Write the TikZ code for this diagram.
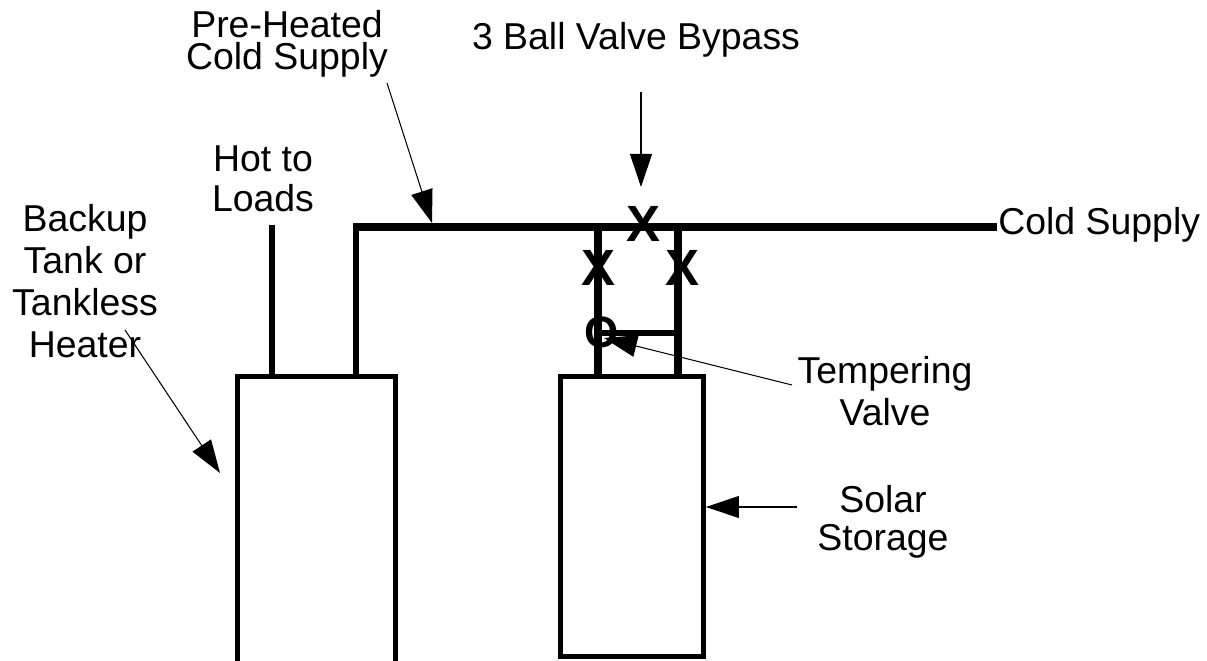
\documentclass[tikz,border=0pt]{standalone}
\usepackage{fontspec}
\setmainfont{Liberation Sans}
\usetikzlibrary{arrows.meta,positioning}

\tikzset{
    tank/.style={draw, line width=0.1cm, inner sep=0pt, anchor=north west},
    pipe/.style={line width=0.16cm},
    thinpipe/.style={line width=0.12cm},
    callout/.style={line width=0.6pt, -{Triangle[length=0.66cm,width=0.44cm]}},
    lbl/.style={font=\fontsize{21.3}{22.8}\selectfont, align=center, inner sep=0pt},
    valvex/.style={font=\fontsize{29}{29}\selectfont\bfseries, inner sep=0pt},
    valveo/.style={font=\fontsize{25}{25}\selectfont\bfseries, inner sep=0pt}
}

\begin{document}
\begin{tikzpicture}[x=0.02cm,y=-0.02cm]
    \useasboundingbox[fill=white] (0,0) rectangle (1207,661);

    % Tanks
    \node[tank, minimum width=3.16cm, minimum height=6.4cm] (backup) at (235,374) {};
    \node[tank, minimum width=2.86cm, minimum height=5.6cm] (solar) at (558,374) {};

    % Pipes
    \coordinate (hottop) at (272,225);
    \coordinate (corner) at (356,227);
    \coordinate (coldend) at (997,227);
    \coordinate (teeL) at (598,227);
    \coordinate (teeR) at (678,227);
    \coordinate (mix) at (598,333);
    \draw[thinpipe] (hottop) -- (hottop |- backup.north);
    \draw[thinpipe] (corner |- backup.north) -- ([yshift=-0.08cm]corner);
    \draw[pipe] ([xshift=-0.06cm]corner) -- (coldend);
    \draw[pipe] (teeL) -- (teeL |- solar.north);
    \draw[pipe] (teeR) -- (teeR |- solar.north);
    \draw[thinpipe] (mix) -- (mix -| teeR);

    % Valves
    \node[valvex] (vtop) at (643,224) {X};
    \node[valvex] (vleft) at (598,268) {X};
    \node[valvex] (vright) at (682,268) {X};
    \node[valveo] (temp) at (602,332) {O};

    % Labels
    \node[lbl, anchor=north, font=\fontsize{21.3}{18.2}\selectfont] (preheat) at (287,10) {Pre-Heated\\Cold Supply};
    \node[lbl, anchor=base] (bypass) at (636,50) {3 Ball Valve Bypass};
    \node[lbl, anchor=north] (hot) at (263,145) {Hot to\\Loads};
    \node[lbl, anchor=north, font=\fontsize{21.3}{23.9}\selectfont] (heater) at (85,204) {Backup\\Tank or\\Tankless\\Heater};
    \node[lbl, anchor=north, font=\fontsize{21.3}{23.9}\selectfont] (temper) at (885,356) {Tempering\\Valve};
    \node[lbl, anchor=north, font=\fontsize{21.3}{21.6}\selectfont] (store) at (883,485) {Solar\\Storage};
    \node[lbl, anchor=base west] (cold) at (998,235) {Cold Supply};

    % Callout arrows
    \coordinate (preheattail) at (387,83);
    \coordinate (preheattip) at (432,223);
    \coordinate (bypasstail) at (641,92);
    \coordinate (heatertail) at (125,330);
    \coordinate (heatertip) at (220,473);
    \coordinate (tempertail) at (792,385);
    \coordinate (tempertip) at (604,338);
    \coordinate (storetail) at (797,507);
    \draw[callout] (preheattail) -- (preheattip);
    \draw[callout] (bypasstail) -- (bypasstail |- 0,187);
    \draw[callout] (heatertail) -- (heatertip);
    \draw[callout] (tempertail) -- (tempertip);
    \draw[callout] (storetail) -- (storetail -| solar.east);

\end{tikzpicture}
\end{document}
